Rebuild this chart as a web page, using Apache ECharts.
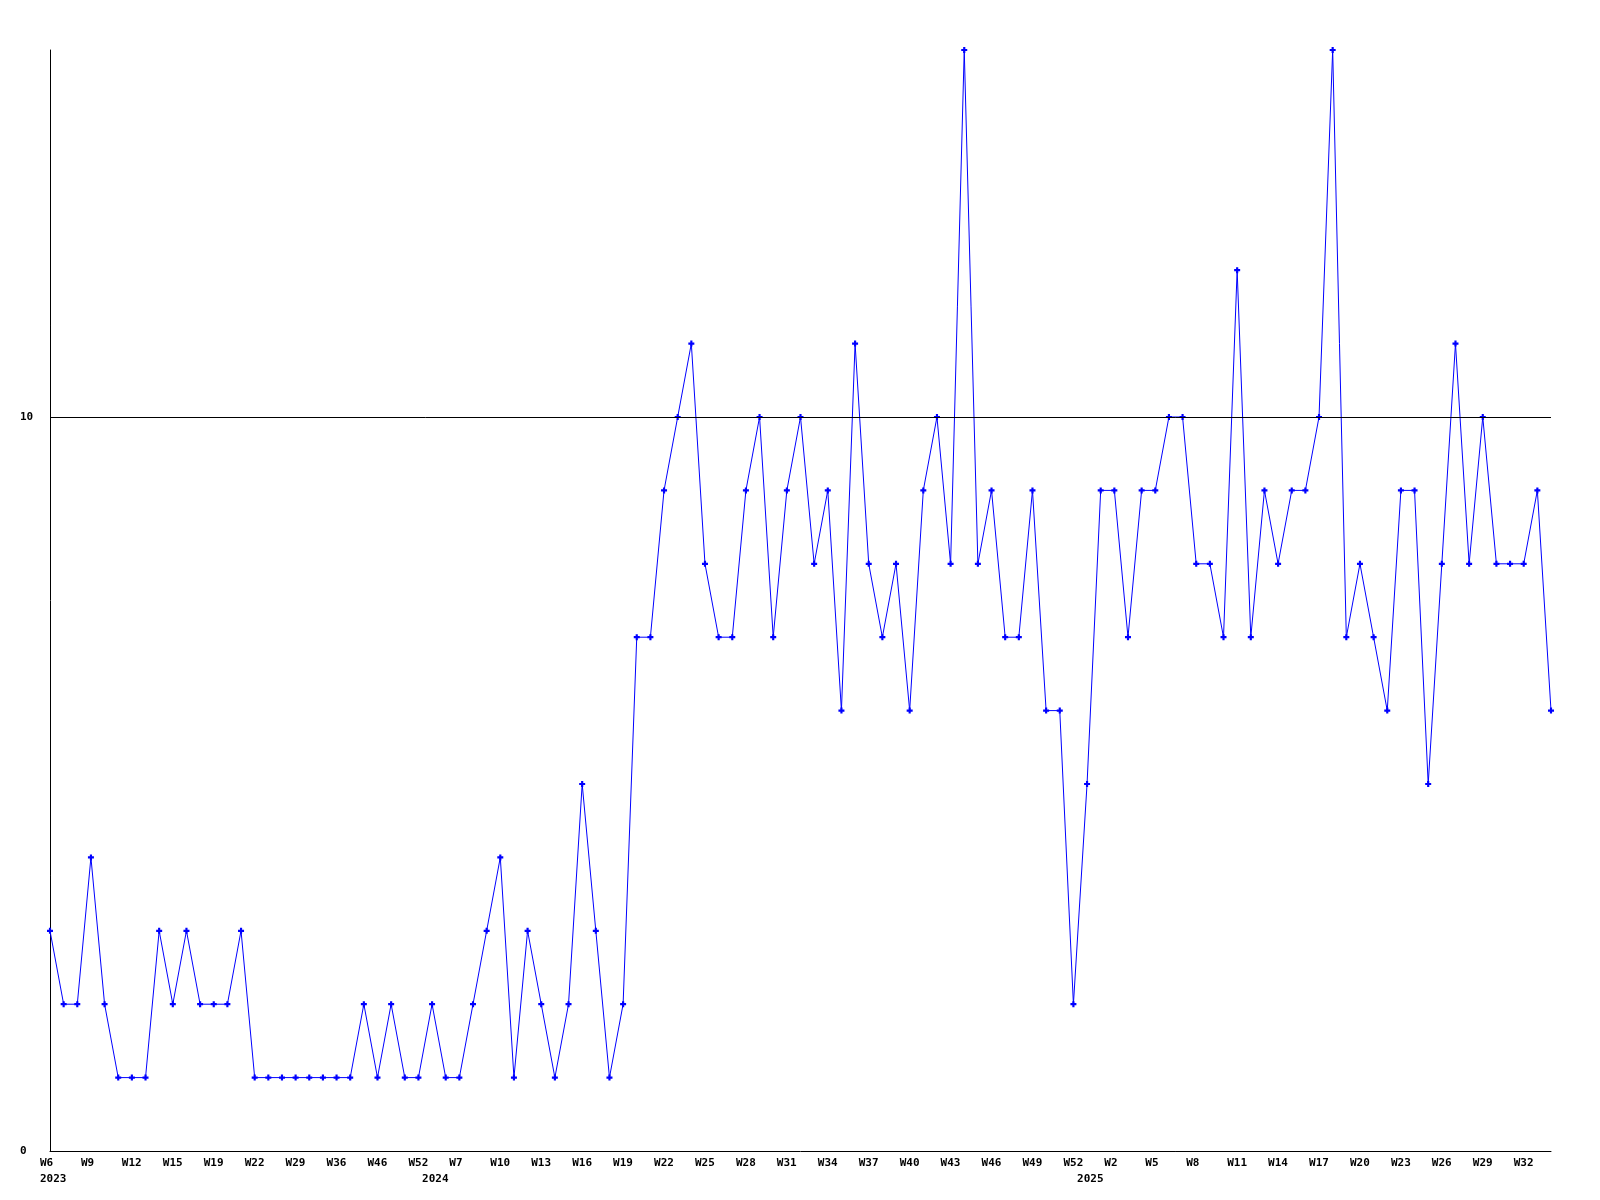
<!DOCTYPE html>
<html>
<head>
<meta charset="utf-8">
<script src="https://cdn.jsdelivr.net/npm/echarts@6/dist/echarts.min.js"></script>
<style>
html,body{margin:0;padding:0;background:#fff;}
#chart{width:1600px;height:1200px;}
</style>
</head>
<body>
<div id="chart"></div>
<script>
// Week categories (labels shown every 3rd category)
var weeks = [
  'W6','W7','W8','W9','W10','W11','W12','W13','W14','W15','W16','W18','W19','W20','W21','W22','W24','W26','W29','W31','W34','W36','W39','W43','W46','W48','W50','W52',
  'W1','W4','W7','W8','W9','W10','W11','W12','W13','W14','W15','W16','W17','W18','W19','W20','W21','W22','W23','W24','W25','W26','W27','W28','W29','W30','W31','W32','W33','W34','W35','W36','W37','W38','W39','W40','W41','W42','W43','W44','W45','W46','W47','W48','W49','W50','W51','W52',
  'W0','W1','W2','W3','W4','W5','W6','W7','W8','W9','W10','W11','W12','W13','W14','W15','W16','W17','W18','W19','W20','W21','W22','W23','W24','W25','W26','W27','W28','W29','W30','W31','W32','W33','W34'
];
var yearStartIndex = [0, 28, 76];
var yearNames = ['2023', '2024', '2025'];
var values = [
  3,2,2,4,2,1,1,1,3,2,3,2,2,2,3,1,1,1,1,1,1,1,1,2,1,2,1,1,
  2,1,1,2,3,4,1,3,2,1,2,5,3,1,2,7,7,9,10,11,8,7,7,9,10,7,9,10,8,9,6,11,8,7,8,6,9,10,8,15,8,9,7,7,9,6,6,2,
  5,9,9,7,9,9,10,10,8,8,7,12,7,9,8,9,9,10,15,7,8,7,6,9,9,5,8,11,8,10,8,8,8,9,6
];
var yTicks = [0, 10];
var refLine = 10;

var chart = echarts.init(document.getElementById('chart'), null, {renderer: 'canvas'});
var font = {fontFamily: 'DejaVu Sans Mono', fontWeight: 'bold', fontSize: 11, color: '#000'};
var tok = Object.assign({width: 20, align: 'left', lineHeight: 16}, font);
chart.setOption({
  animation: false,
  backgroundColor: '#ffffff',
  grid: {left: 50, right: 49, top: 50, bottom: 49, containLabel: false},
  xAxis: {
    type: 'category',
    data: weeks,
    boundaryGap: false,
    axisLine: {show: true, lineStyle: {color: '#000', width: 1}},
    axisTick: {show: false},
    splitLine: {show: false},
    axisLabel: Object.assign({
      margin: 4,
      lineHeight: 16,
      align: 'center',
      verticalAlign: 'top',
      rich: {w: tok, y: tok},
      interval: function (index) {
        return index % 3 === 0 || yearStartIndex.indexOf(index) >= 0;
      },
      formatter: function (value, index) {
        var w = '{w|' + (index % 3 === 0 ? value : ' ') + '}';
        var yi = yearStartIndex.indexOf(index);
        return yi >= 0 ? w + '\n{y|' + yearNames[yi] + '}' : w;
      }
    }, font)
  },
  yAxis: {
    type: 'value',
    min: 0,
    max: 15,
    interval: 10,
    axisLine: {show: true, lineStyle: {color: '#000', width: 1}},
    axisTick: {show: false},
    splitLine: {show: false},
    axisLabel: Object.assign({
      margin: 30,
      align: 'left',
      showMaxLabel: false,
      formatter: function (v) { return yTicks.indexOf(v) >= 0 ? String(v) : ''; }
    }, font)
  },
  series: [{
    type: 'line',
    data: values,
    symbol: 'path://M1.6,0H3.4V1.6H5V3.4H3.4V5H1.6V3.4H0V1.6H1.6Z',
    symbolSize: 6,
    showAllSymbol: true,
    itemStyle: {color: '#0000ff'},
    lineStyle: {color: '#0000ff', width: 1},
    markLine: {
      silent: true,
      symbol: 'none',
      label: {show: false},
      lineStyle: {color: '#000', width: 1, type: 'solid'},
      data: [{yAxis: refLine}]
    }
  }]
});
</script>
</body>
</html>
